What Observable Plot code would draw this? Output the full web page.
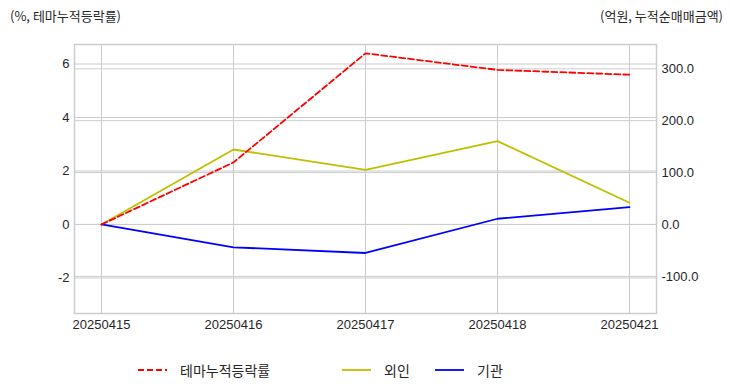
<!DOCTYPE html>
<html>
<head>
<meta charset="utf-8">
<script src="https://cdn.jsdelivr.net/npm/d3@7"></script>
<script src="https://cdn.jsdelivr.net/npm/@observablehq/plot@0.6"></script>
<style>
  html, body { margin: 0; padding: 0; background: #fff; }
  #wrap { position: relative; width: 732px; height: 392px; overflow: hidden; }
  .ttl { position: absolute; top: 6px; font: 13px "Noto Sans CJK KR", "Liberation Sans", sans-serif; color: #262626; white-space: nowrap; line-height: 20px; }
  .leg { position: absolute; top: 359px; height: 22px; display: flex; align-items: center; font: 14px "Noto Sans CJK KR", sans-serif; color: #262626; white-space: nowrap; }
  .leg svg { margin-right: 13px; }
</style>
</head>
<body>
<div id="wrap">
  <div id="chart"></div>
</div>
<script>
const dates = ["20250415", "20250416", "20250417", "20250418", "20250421"];
const themeCum = [0, 2.32, 6.40, 5.78, 5.60];      // 테마누적등락률 (%)
const foreignNet = [0, 144.5, 105, 160.5, 41.8];  // 외인 (억원)
const instNet = [0, -44, -55, 11, 33.3];          // 기관 (억원)
const leftTicks = [-2, 0, 2, 4, 6];
const rightTicks = [-100, 0, 100, 200, 300];
const leftDomain = [-3.33, 6.73];
const rightDomain = [-171.5, 347];
const leftTitle = "(%, 테마누적등락률)";
const rightTitle = "(억원, 누적순매매금액)";
const seriesNames = ["테마누적등락률", "외인", "기관"];
const seriesColors = ["#ff0000", "#bfbf00", "#0000ff"];

// map right-axis values onto the left scale (zero aligned)
const k = (leftDomain[1] - leftDomain[0]) / (rightDomain[1] - rightDomain[0]);
const toLeft = v => v * k;

const themeData = dates.map((d, i) => ({d, v: themeCum[i]}));
const foreignData = dates.map((d, i) => ({d, v: toLeft(foreignNet[i])}));
const instData = dates.map((d, i) => ({d, v: toLeft(instNet[i])}));

const grid = "#cccccc";
const chart = Plot.plot({
  width: 732,
  height: 392,
  marginLeft: 74,
  marginRight: 76,
  marginTop: 44,
  marginBottom: 79,
  style: {fontSize: "13px", fontFamily: "'Liberation Sans', Arial, sans-serif", color: "#262626", background: "#fff"},
  x: {type: "point", domain: dates, padding: 0.2},
  y: {domain: leftDomain},
  marks: [
    Plot.gridX(dates, {stroke: grid, strokeOpacity: 1, strokeWidth: 1}),
    Plot.gridY(leftTicks, {stroke: grid, strokeOpacity: 1, strokeWidth: 1}),
    Plot.gridY(rightTicks.map(toLeft), {stroke: grid, strokeOpacity: 1, strokeWidth: 1}),
    Plot.frame({stroke: grid, strokeWidth: 1.5}),
    Plot.axisX({tickSize: 0, tickPadding: 6, label: null}),
    Plot.axisY(leftTicks, {anchor: "left", tickSize: 0, tickPadding: 5, label: null, tickFormat: d => String(d)}),
    Plot.axisY(rightTicks.map(toLeft), {anchor: "right", tickSize: 0, tickPadding: 5, label: null,
      tickFormat: d => (Math.round(d / k * 10) / 10).toFixed(1)}),
    Plot.lineY(foreignData, {x: "d", y: "v", stroke: seriesColors[1], strokeWidth: 1.8}),
    Plot.lineY(instData, {x: "d", y: "v", stroke: seriesColors[2], strokeWidth: 1.8}),
    Plot.lineY(themeData, {x: "d", y: "v", stroke: seriesColors[0], strokeWidth: 1.8, strokeDasharray: "6,3"})
  ]
});
document.getElementById("chart").appendChild(chart);

const wrap = document.getElementById("wrap");
function addTitle(text, side) {
  const el = document.createElement("div");
  el.className = "ttl";
  el.textContent = text;
  if (side === "left") el.style.left = "10px"; else el.style.right = "9px";
  wrap.appendChild(el);
}
addTitle(leftTitle, "left");
addTitle(rightTitle, "right");

const legendPos = [138, 342, 435];
seriesNames.forEach((name, i) => {
  const item = document.createElement("div");
  item.className = "leg";
  item.style.left = legendPos[i] + "px";
  const dash = i === 0 ? 'stroke-dasharray="6,3"' : "";
  item.innerHTML = `<svg width="29" height="4"><line x1="0" y1="2" x2="29" y2="2" stroke="${seriesColors[i]}" stroke-width="1.8" ${dash}/></svg><span>${name}</span>`;
  wrap.appendChild(item);
});
</script>
</body>
</html>
